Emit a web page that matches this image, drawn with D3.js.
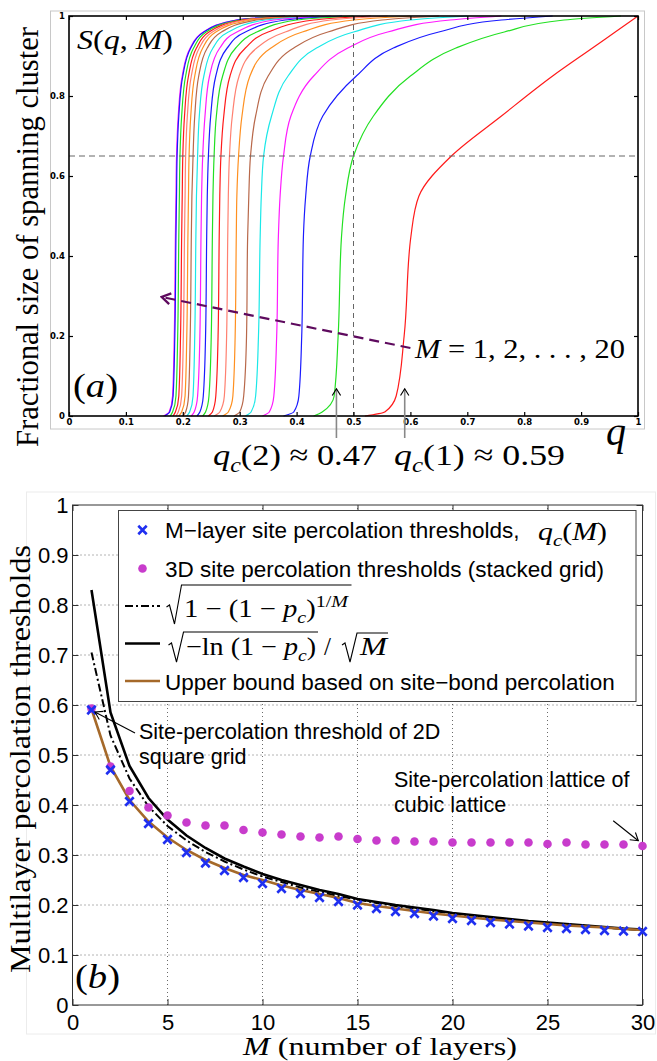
<!DOCTYPE html>
<html>
<head>
<meta charset="utf-8">
<script src="https://cdn.jsdelivr.net/npm/d3@7"></script>
<style>
body { margin: 0; background: #fff; }
svg { display: block; }
</style>
</head>
<body>
<div id="fig"></div>
<script>
// ---- panel (a): fractional size of spanning cluster S(q, M)
// for every M, the q at which the curve reaches each S level
var spanLevels = [0, 0.01, 0.05, 0.2, 0.45, 0.55, 0.65, 0.75, 0.85, 0.92, 0.96, 0.99, 1];
var spanQ = [
    [0.52, 0.555, 0.575, 0.589, 0.601, 0.615, 0.672, 0.76, 0.85, 0.92, 0.96, 0.99, 1.0],
    [0.43, 0.445, 0.466, 0.473, 0.479, 0.486, 0.50, 0.535, 0.60, 0.68, 0.765, 0.87, 0.97],
    [0.377, 0.395, 0.404, 0.409, 0.412, 0.416, 0.424, 0.446, 0.505, 0.57, 0.65, 0.76, 0.85],
    [0.34, 0.352, 0.36, 0.365, 0.368, 0.371, 0.377, 0.39, 0.43, 0.49, 0.56, 0.67, 0.76],
    [0.31, 0.32, 0.328, 0.333, 0.336, 0.338, 0.342, 0.356, 0.385, 0.435, 0.5, 0.6, 0.7],
    [0.29, 0.30, 0.307, 0.312, 0.314, 0.316, 0.319, 0.328, 0.35, 0.395, 0.455, 0.55, 0.65],
    [0.27, 0.28, 0.288, 0.292, 0.294, 0.295, 0.298, 0.304, 0.318, 0.355, 0.41, 0.5, 0.6],
    [0.255, 0.265, 0.273, 0.277, 0.279, 0.28, 0.282, 0.287, 0.299, 0.33, 0.38, 0.46, 0.56],
    [0.245, 0.252, 0.258, 0.262, 0.264, 0.265, 0.267, 0.272, 0.283, 0.31, 0.35, 0.43, 0.53],
    [0.235, 0.24, 0.246, 0.25, 0.252, 0.253, 0.255, 0.259, 0.27, 0.293, 0.33, 0.4, 0.5],
    [0.225, 0.23, 0.236, 0.24, 0.242, 0.243, 0.245, 0.249, 0.258, 0.278, 0.31, 0.38, 0.48],
    [0.215, 0.22, 0.226, 0.23, 0.232, 0.233, 0.235, 0.239, 0.247, 0.265, 0.295, 0.36, 0.46],
    [0.207, 0.212, 0.218, 0.221, 0.223, 0.224, 0.226, 0.229, 0.237, 0.253, 0.28, 0.345, 0.44],
    [0.2, 0.205, 0.21, 0.213, 0.215, 0.216, 0.218, 0.221, 0.228, 0.243, 0.268, 0.33, 0.43],
    [0.193, 0.198, 0.204, 0.207, 0.209, 0.21, 0.211, 0.214, 0.221, 0.235, 0.258, 0.32, 0.42],
    [0.188, 0.192, 0.198, 0.201, 0.203, 0.204, 0.205, 0.208, 0.215, 0.229, 0.252, 0.31, 0.41],
    [0.183, 0.187, 0.193, 0.196, 0.198, 0.199, 0.2, 0.203, 0.21, 0.224, 0.246, 0.305, 0.4],
    [0.178, 0.182, 0.188, 0.191, 0.193, 0.194, 0.195, 0.198, 0.205, 0.219, 0.241, 0.3, 0.39],
    [0.168, 0.177, 0.183, 0.186, 0.188, 0.189, 0.19, 0.193, 0.2, 0.214, 0.237, 0.295, 0.38],
    [0.166, 0.176, 0.182, 0.185, 0.187, 0.188, 0.189, 0.192, 0.199, 0.213, 0.236, 0.294, 0.38]
];
var spanColors = ['#ff1a1a', '#22e022', '#1a1aff', '#ff1aff', '#1ae8e8', '#b8684a', '#ff9020', '#ff8070'];
var xTicksA = [0, 0.1, 0.2, 0.3, 0.4, 0.5, 0.6, 0.7, 0.8, 0.9, 1];
var yTicksA = [0, 0.2, 0.4, 0.6, 0.8, 1];
var qGuide = 0.5, sGuide = 0.65;
var qcMarks = [0.47, 0.59];

// ---- panel (b): multilayer percolation thresholds
var layers = [1, 2, 3, 4, 5, 6, 7, 8, 9, 10, 11, 12, 13, 14, 15, 16, 17, 18, 19, 20,
              21, 22, 23, 24, 25, 26, 27, 28, 29, 30];
var qcM = [0.59, 0.47, 0.407, 0.363, 0.331, 0.305, 0.284, 0.269, 0.255, 0.243,
           0.233, 0.223, 0.215, 0.207, 0.2, 0.193, 0.187, 0.183, 0.178, 0.173,
           0.169, 0.165, 0.162, 0.158, 0.155, 0.153, 0.151, 0.149, 0.148, 0.147];
var stacked3D = [0.593, 0.477, 0.428, 0.395, 0.379, 0.365, 0.359, 0.359, 0.35, 0.345,
                 0.341, 0.337, 0.335, 0.337, 0.332, 0.329, 0.329, 0.327, 0.327, 0.325,
                 0.325, 0.325, 0.325, 0.325, 0.322, 0.325, 0.321, 0.321, 0.321, 0.318];
var rootBound = [0.705, 0.539, 0.453, 0.397, 0.358, 0.329, 0.306, 0.287, 0.271, 0.257,
                 0.246, 0.235, 0.226, 0.218, 0.211, 0.204, 0.198, 0.193, 0.188, 0.183,
                 0.179, 0.175, 0.171, 0.167, 0.164, 0.161, 0.158, 0.155, 0.152, 0.150];
var lnBound = [0.83, 0.585, 0.478, 0.414, 0.371, 0.339, 0.314, 0.293, 0.277, 0.262,
               0.25, 0.24, 0.23, 0.222, 0.212, 0.206, 0.2, 0.195, 0.19, 0.184,
               0.18, 0.176, 0.172, 0.168, 0.165, 0.162, 0.159, 0.156, 0.153, 0.151];
var siteBond = [0.592, 0.477, 0.41, 0.367, 0.335, 0.31, 0.29, 0.274, 0.26, 0.25,
                0.239, 0.23, 0.222, 0.214, 0.204, 0.198, 0.193, 0.188, 0.183, 0.179,
                0.175, 0.171, 0.168, 0.165, 0.162, 0.159, 0.157, 0.155, 0.152, 0.15];
var xTicksB = [0, 5, 10, 15, 20, 25, 30];
var yTicksB = [0, 0.1, 0.2, 0.3, 0.4, 0.5, 0.6, 0.7, 0.8, 0.9, 1];

var serif = '"Liberation Serif", "DejaVu Serif", serif';
var sans = '"Liberation Sans", Arial, sans-serif';

var svg = d3.select('#fig').append('svg')
    .attr('width', 657)
    .attr('height', 1061);

var defs = svg.append('defs');
function chevron(id, color, size, width) {
    defs.append('marker')
        .attr('id', id)
        .attr('viewBox', '-10 -6 12 12')
        .attr('refX', 0).attr('refY', 0)
        .attr('markerWidth', size).attr('markerHeight', size)
        .attr('markerUnits', 'userSpaceOnUse')
        .attr('orient', 'auto')
        .append('path')
        .attr('d', 'M-8,-5 L0,0 L-8,5')
        .attr('fill', 'none')
        .attr('stroke', color)
        .attr('stroke-width', width);
}
chevron('headPurple', '#5e0a5e', 13, 2.2);
chevron('headBlack', '#000', 10, 1.4);
chevron('headThin', '#000', 11, 1.2);

// light figure borders
svg.append('rect').attr('x', 50.5).attr('y', 11).attr('width', 594).attr('height', 418)
    .attr('fill', 'none').attr('stroke', '#c8c8c8').attr('stroke-width', 1);
svg.append('rect').attr('x', 26.5).attr('y', 492).attr('width', 629).attr('height', 542)
    .attr('fill', 'none').attr('stroke', '#ececec').attr('stroke-width', 1);

// small helper for latex-ish math text
function addMath(parent, x, y, size, parts, len) {
    var t = parent.append('text')
        .attr('x', x).attr('y', y)
        .style('font-family', serif)
        .style('font-size', size + 'px');
    var shift = 0;
    parts.forEach(function(p) {
        var target = p.sub ? size * 0.22 : (p.sup ? -size * 0.4 : 0);
        t.append('tspan')
            .attr('dy', target - shift)
            .style('font-style', p.it ? 'italic' : 'normal')
            .style('font-size', (p.sub || p.sup) ? (size * 0.7) + 'px' : null)
            .text(p.t);
        shift = target;
    });
    if (len) t.attr('textLength', len).attr('lengthAdjust', 'spacingAndGlyphs');
    return t;
}
function radical(parent, x, top, bottom, end) {
    var p = d3.path();
    p.moveTo(x, bottom - 17);
    p.lineTo(x + 3, bottom - 19);
    p.lineTo(x + 8, bottom);
    p.lineTo(x + 15, top);
    p.lineTo(end, top);
    parent.append('path').attr('d', p.toString())
        .attr('fill', 'none').attr('stroke', '#000').attr('stroke-width', 1.1);
}

// =================== panel (a) ===================
var gA = svg.append('g');
var xA = d3.scaleLinear().domain([0, 1]).range([69, 638]);
var yA = d3.scaleLinear().domain([0, 1]).range([416, 16]);

var curveA = d3.line()
    .curve(d3.curveMonotoneY)
    .x(function(d) { return xA(d[0]); })
    .y(function(d) { return yA(d[1]); });

// draw from M = 20 back to M = 1
d3.range(spanQ.length - 1, -1, -1).forEach(function(m) {
    var pts = spanQ[m].map(function(q, i) { return [q, spanLevels[i]]; });
    gA.append('path')
        .attr('d', curveA(pts))
        .attr('fill', 'none')
        .attr('stroke', spanColors[m % spanColors.length])
        .attr('stroke-width', 1.2);
});

// guide lines
gA.append('line')
    .attr('x1', xA(0)).attr('x2', xA(1))
    .attr('y1', yA(sGuide)).attr('y2', yA(sGuide))
    .attr('stroke', '#666').attr('stroke-width', 1).style('stroke-dasharray', '6,4');
gA.append('line')
    .attr('x1', xA(qGuide)).attr('x2', xA(qGuide))
    .attr('y1', yA(1)).attr('y2', yA(0))
    .attr('stroke', '#666').attr('stroke-width', 1).style('stroke-dasharray', '5,4');

function styleSmallAxis(g, labels) {
    g.select('.domain').remove();
    g.selectAll('line').attr('stroke', '#000').attr('stroke-width', 1.2);
    g.selectAll('text')
        .style('font-family', '"DejaVu Sans", sans-serif')
        .style('font-weight', 'bold')
        .style('font-size', '8.5px')
        .attr('fill', '#000');
    if (!labels) g.selectAll('text').remove();
}
var fmtA = function(d) { return String(+d.toFixed(1)); };
gA.append('g').attr('transform', 'translate(0,' + yA(0) + ')')
    .call(d3.axisBottom(xA).tickValues(xTicksA).tickFormat(fmtA).tickSize(-4).tickPadding(3))
    .call(styleSmallAxis, true);
gA.append('g').attr('transform', 'translate(0,' + yA(1) + ')')
    .call(d3.axisTop(xA).tickValues(xTicksA).tickSize(-4))
    .call(styleSmallAxis, false);
gA.append('g').attr('transform', 'translate(' + xA(0) + ',0)')
    .call(d3.axisLeft(yA).tickValues(yTicksA).tickFormat(fmtA).tickSize(-4).tickPadding(4))
    .call(styleSmallAxis, true);
gA.append('g').attr('transform', 'translate(' + xA(1) + ',0)')
    .call(d3.axisRight(yA).tickValues(yTicksA).tickSize(-4))
    .call(styleSmallAxis, false);

gA.append('rect')
    .attr('x', xA(0)).attr('y', yA(1))
    .attr('width', xA(1) - xA(0)).attr('height', yA(0) - yA(1))
    .attr('fill', 'none').attr('stroke', '#000').attr('stroke-width', 1.6);

// purple arrow sweeping over M
gA.append('line')
    .attr('x1', xA(0.6)).attr('y1', yA(0.17))
    .attr('x2', xA(0.163)).attr('y2', yA(0.2975))
    .attr('stroke', '#5e0a5e').attr('stroke-width', 2.2)
    .style('stroke-dasharray', '10,6')
    .attr('marker-end', 'url(#headPurple)');

// q_c arrows
qcMarks.forEach(function(q) {
    gA.append('line')
        .attr('x1', xA(q)).attr('x2', xA(q))
        .attr('y1', yA(-0.055)).attr('y2', yA(0.068))
        .attr('stroke', '#888').attr('stroke-width', 1.6)
        .attr('marker-end', 'url(#headBlack)');
});

// text of panel (a)
gA.append('text')
    .attr('transform', 'translate(38,237) rotate(-90)')
    .attr('text-anchor', 'middle')
    .style('font-family', serif).style('font-size', '31px')
    .attr('textLength', 420).attr('lengthAdjust', 'spacingAndGlyphs')
    .text('Fractional size of spanning cluster');
addMath(gA, 77, 49, 27, [{t: 'S', it: true}, {t: '('}, {t: 'q', it: true}, {t: ', '},
    {t: 'M', it: true}, {t: ')'}], 96);
addMath(gA, 73, 397, 34, [{t: '('}, {t: 'a', it: true}, {t: ')'}], 45);
addMath(gA, 415, 358, 28, [{t: 'M', it: true}, {t: ' = 1, 2, . . . , 20'}], 210);
addMath(gA, 606, 445, 40, [{t: 'q', it: true}]);
addMath(gA, 213, 465, 30, [{t: 'q', it: true}, {t: 'c', it: true, sub: true},
    {t: '(2) ≈ 0.47'}], 164);
addMath(gA, 394, 465, 30, [{t: 'q', it: true}, {t: 'c', it: true, sub: true},
    {t: '(1) ≈ 0.59'}], 171);

// =================== panel (b) ===================
var gB = svg.append('g');
var xB = d3.scaleLinear().domain([0, 30]).range([72.5, 642.5]);
var yB = d3.scaleLinear().domain([0, 1]).range([1005, 505]);

// dotted grid
gB.selectAll('.vgrid').data(xTicksB.slice(1, -1)).enter().append('line')
    .attr('x1', xB).attr('x2', xB)
    .attr('y1', yB(0)).attr('y2', yB(1))
    .attr('stroke', '#444').attr('stroke-width', 0.8).style('stroke-dasharray', '1,3');
gB.selectAll('.hgrid').data(yTicksB.slice(1, -1)).enter().append('line')
    .attr('x1', xB(0)).attr('x2', xB(30))
    .attr('y1', yB).attr('y2', yB)
    .attr('stroke', '#444').attr('stroke-width', 0.8).style('stroke-dasharray', '1,3');

function styleBigAxis(g, labels) {
    g.select('.domain').remove();
    g.selectAll('line').attr('stroke', '#333').attr('stroke-width', 1);
    g.selectAll('text')
        .style('font-family', sans)
        .style('font-size', '22px')
        .attr('fill', '#000');
    if (!labels) g.selectAll('text').remove();
}
gB.append('g').attr('transform', 'translate(0,' + yB(0) + ')')
    .call(d3.axisBottom(xB).tickValues(xTicksB).tickFormat(d3.format('d')).tickSize(-6).tickPadding(9))
    .call(styleBigAxis, true);
gB.append('g').attr('transform', 'translate(0,' + yB(1) + ')')
    .call(d3.axisTop(xB).tickValues(xTicksB).tickSize(-6))
    .call(styleBigAxis, false);
gB.append('g').attr('transform', 'translate(' + xB(0) + ',0)')
    .call(d3.axisLeft(yB).tickValues(yTicksB).tickFormat(fmtA).tickSize(-6).tickPadding(4))
    .call(styleBigAxis, true);
gB.append('g').attr('transform', 'translate(' + xB(30) + ',0)')
    .call(d3.axisRight(yB).tickValues(yTicksB).tickSize(-6))
    .call(styleBigAxis, false);

gB.append('rect')
    .attr('x', xB(0)).attr('y', yB(1))
    .attr('width', xB(30) - xB(0)).attr('height', yB(0) - yB(1))
    .attr('fill', 'none').attr('stroke', '#333').attr('stroke-width', 1);

var lineB = function(values) {
    return d3.line()
        .x(function(d, i) { return xB(layers[i]); })
        .y(function(d) { return yB(d); })(values);
};
gB.append('path').attr('d', lineB(rootBound))
    .attr('fill', 'none').attr('stroke', '#000').attr('stroke-width', 2)
    .style('stroke-dasharray', '8,3,2,3');
gB.append('path').attr('d', lineB(lnBound))
    .attr('fill', 'none').attr('stroke', '#000').attr('stroke-width', 2.6);
gB.append('path').attr('d', lineB(siteBond))
    .attr('fill', 'none').attr('stroke', '#a5692a').attr('stroke-width', 2.6);

gB.selectAll('.dot3d').data(stacked3D).enter().append('circle')
    .attr('cx', function(d, i) { return xB(layers[i]); })
    .attr('cy', function(d) { return yB(d); })
    .attr('r', 4.3)
    .attr('fill', '#c83ccc');

var cross = d3.symbol().type(d3.symbolX).size(48);
gB.selectAll('.qcx').data(qcM).enter().append('path')
    .attr('d', cross)
    .attr('transform', function(d, i) { return 'translate(' + xB(layers[i]) + ',' + yB(d) + ')'; })
    .attr('fill', 'none').attr('stroke', '#1f2ff0').attr('stroke-width', 2.6);

// annotations
function annot(lines, x, y) {
    lines.forEach(function(s, i) {
        gB.append('text')
            .attr('x', x).attr('y', y + i * 24.5)
            .style('font-family', sans).style('font-size', '21.5px')
            .text(s);
    });
}
annot(['Site-percolation threshold of 2D', 'square grid'], 139, 739);
annot(['Site-percolation lattice of', 'cubic lattice'], 394, 787);
gB.append('line')
    .attr('x1', xB(3.29)).attr('y1', yB(0.544))
    .attr('x2', xB(1.18)).attr('y2', yB(0.586))
    .attr('stroke', '#000').attr('stroke-width', 1.1)
    .attr('marker-end', 'url(#headThin)');
gB.append('line')
    .attr('x1', xB(28.46)).attr('y1', yB(0.3686))
    .attr('x2', xB(29.78)).attr('y2', yB(0.3286))
    .attr('stroke', '#000').attr('stroke-width', 1.1)
    .attr('marker-end', 'url(#headThin)');

// legend
var leg = gB.append('g');
leg.append('rect')
    .attr('x', 118.5).attr('y', 510.5).attr('width', 517.5).attr('height', 191)
    .attr('fill', '#fff').attr('stroke', '#444').attr('stroke-width', 1);
leg.append('path').attr('d', cross).attr('transform', 'translate(142.5,530)')
    .attr('fill', 'none').attr('stroke', '#1f2ff0').attr('stroke-width', 2.6);
leg.append('circle').attr('cx', 142.5).attr('cy', 568.5).attr('r', 4.3).attr('fill', '#c83ccc');
leg.append('line').attr('x1', 125).attr('x2', 160).attr('y1', 606).attr('y2', 606)
    .attr('stroke', '#000').attr('stroke-width', 2).style('stroke-dasharray', '8,3,2,3');
leg.append('line').attr('x1', 125).attr('x2', 160).attr('y1', 643.5).attr('y2', 643.5)
    .attr('stroke', '#000').attr('stroke-width', 2.6);
leg.append('line').attr('x1', 125).attr('x2', 160).attr('y1', 681).attr('y2', 681)
    .attr('stroke', '#a5692a').attr('stroke-width', 2.6);

var legText = function(s, y) {
    return leg.append('text').attr('x', 165).attr('y', y)
        .style('font-family', sans).style('font-size', '22.5px').text(s);
};
legText('M\u2212layer site percolation thresholds,', 538);
addMath(leg, 538, 540, 25, [{t: 'q', it: true}, {t: 'c', it: true, sub: true},
    {t: '('}, {t: 'M', it: true}, {t: ')'}], 69);
legText('3D site percolation thresholds (stacked grid)', 577);
legText('Upper bound based on site\u2212bond percolation', 690);

radical(leg, 166.5, 585, 624, 351.5);
addMath(leg, 184, 617, 25, [{t: '1 \u2212 (1 \u2212 '}, {t: 'p', it: true},
    {t: 'c', it: true, sub: true}, {t: ')'}, {t: '1/', sup: true}, {t: 'M', it: true, sup: true}], 164);
radical(leg, 168.5, 632, 662, 318);
addMath(leg, 186, 655, 25, [{t: '\u2212ln (1 \u2212 '}, {t: 'p', it: true},
    {t: 'c', it: true, sub: true}, {t: ')'}], 130);
addMath(leg, 324, 655, 25, [{t: '/'}]);
radical(leg, 342, 633, 662, 388);
addMath(leg, 360, 655, 25, [{t: 'M', it: true}], 27);

// axis titles of panel (b)
gB.append('text')
    .attr('transform', 'translate(30,759) rotate(-90)')
    .attr('text-anchor', 'middle')
    .style('font-family', serif).style('font-size', '30px')
    .attr('textLength', 428).attr('lengthAdjust', 'spacingAndGlyphs')
    .text('Multilayer percolation thresholds');
addMath(gB, 243, 1055, 25, [{t: 'M', it: true}, {t: ' (number of layers)'}], 274);
addMath(gB, 75, 988, 34, [{t: '('}, {t: 'b', it: true}, {t: ')'}], 45);
</script>
</body>
</html>
